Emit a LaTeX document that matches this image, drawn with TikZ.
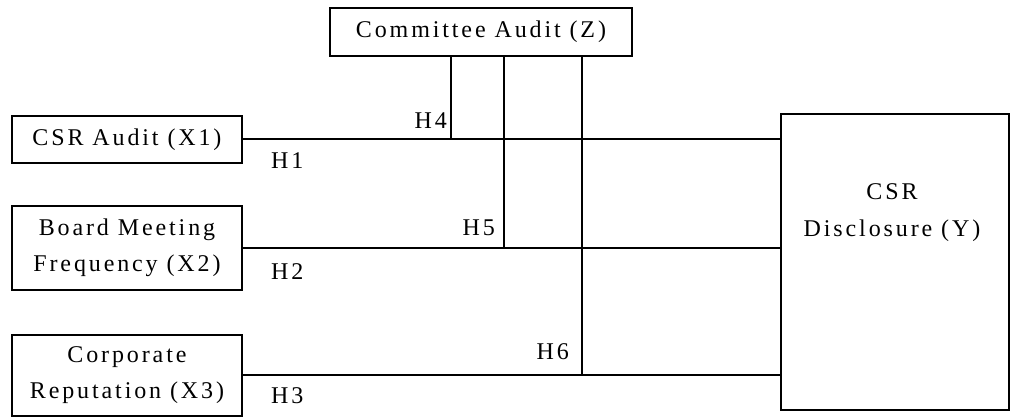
\documentclass[tikz,border=0pt]{standalone}
\usepackage{fontspec}
\setmainfont{Liberation Serif}[LetterSpace=12]
\usetikzlibrary{positioning,calc}

\begin{document}
\begin{tikzpicture}[
  x=1pt, y=1pt,
  box/.style = {draw, line width=2pt, align=center, inner sep=0pt,
                minimum width=#1, font=\fontsize{24}{36}\selectfont},
  box/.default = 230pt,
  lnk/.style = {line width=2pt},
  hyp/.style = {inner sep=0pt, font=\fontsize{24}{26}\selectfont},
]
\useasboundingbox (0,0) rectangle (1010,417);

%% ── BOXES ───────────────────────────────────────────────────────────────
\node[box=302pt, minimum height=48pt] (Z)  at (481,385)   {Committee Audit (Z)};
\node[box, minimum height=47pt]       (X1) at (127,277.5) {CSR Audit (X1)};
\node[box, minimum height=84pt]       (X2) at (127,169)   {Board Meeting\\Frequency (X2)};
\node[box, minimum height=81pt]       (X3) at (127,41.5)  {Corporate\\Reputation (X3)};
\node[box=228pt, minimum height=296pt] (Y) at (895,155)   {};
\node[hyp, align=center, font=\fontsize{24}{37}\selectfont]
      (Ylab) at ($(Y.north)+(-3,-99.5)$) {CSR\\Disclosure (Y)};

%% ── DIRECT PATHS ────────────────────────────────────────────────────────
\draw[lnk] (X1.east) -- (X1.east -| Y.west);
\draw[lnk] (X2.east) -- (X2.east -| Y.west);
\draw[lnk] (X3.east) -- (X3.east -| Y.west);

\node[hyp, anchor=south west] (H1) at ($(X1.east)+(28,-29)$) {H1};
\node[hyp, anchor=south west] (H2) at ($(X2.east)+(28,-32)$) {H2};
\node[hyp, anchor=south west] (H3) at ($(X3.east)+(28,-28)$) {H3};

%% ── MODERATION (Z) ──────────────────────────────────────────────────────
\coordinate (m4) at (451,385);
\coordinate (m5) at (504,385);
\coordinate (m6) at (582,385);

\draw[lnk] (m4 |- Z.south) -- (m4 |- X1.east);
\draw[lnk] (m5 |- Z.south) -- (m5 |- X2.east);
\draw[lnk] (m6 |- Z.south) -- (m6 |- X3.east);

\node[hyp, anchor=south east] (H4) at ($(m4 |- X1.east)+(-4,11)$)  {H4};
\node[hyp, anchor=south east] (H5) at ($(m5 |- X2.east)+(-9,12)$)  {H5};
\node[hyp, anchor=south east] (H6) at ($(m6 |- X3.east)+(-13,16)$) {H6};

\end{tikzpicture}
\end{document}
